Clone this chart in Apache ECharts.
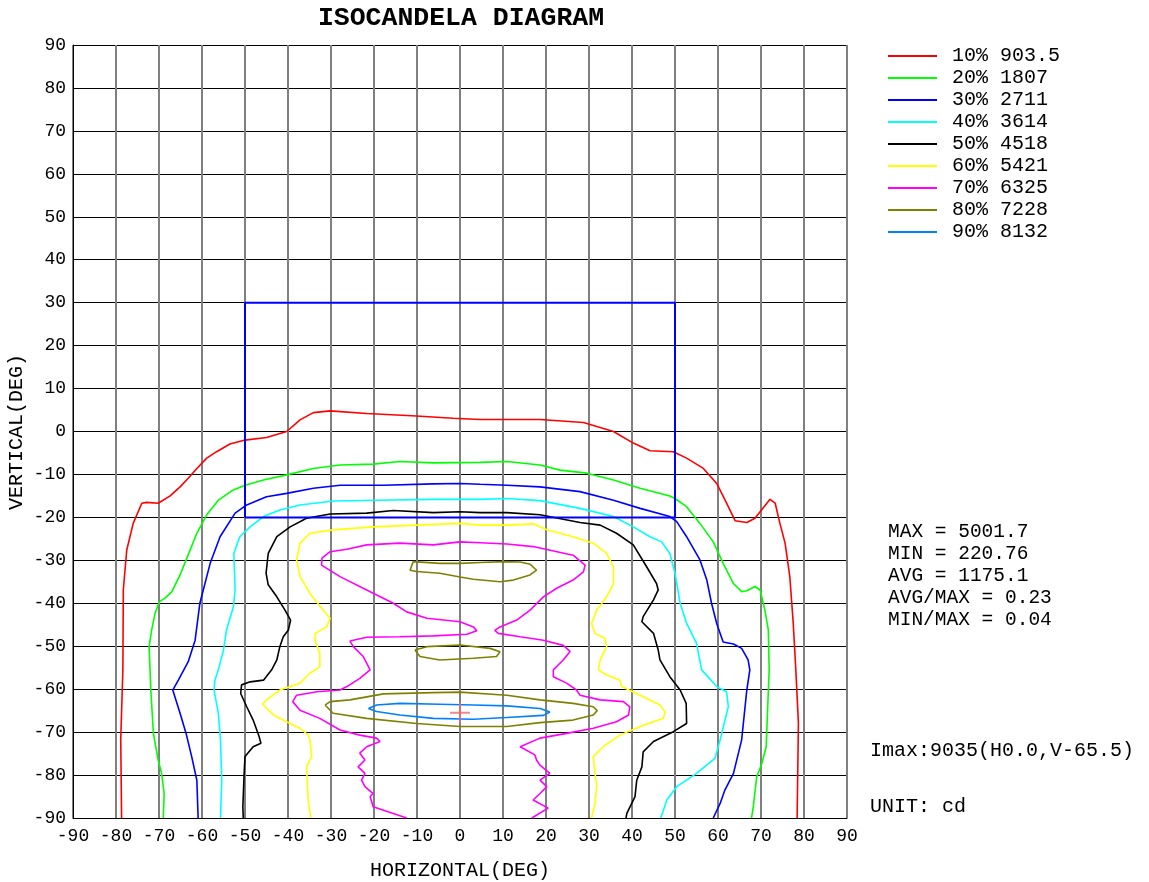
<!DOCTYPE html>
<html>
<head>
<meta charset="utf-8">
<script src="https://cdn.jsdelivr.net/npm/echarts@6/dist/echarts.min.js"></script>
<style>html,body{margin:0;padding:0;background:#fff}#c{width:1149px;height:882px}</style>
</head>
<body>
<div id="c"></div>
<script>
// Contour levels (legend)
const levelNames = ['10% 903.5','20% 1807','30% 2711','40% 3614','50% 4518','60% 5421','70% 6325','80% 7228','90% 8132'];
const levelColors = ['#ff0000','#00ff00','#0000ff','#00ffff','#000000','#ffff00','#ff00ff','#808000','#0080ff'];
const axisTicks = [-90,-80,-70,-60,-50,-40,-30,-20,-10,0,10,20,30,40,50,60,70,80,90];

// Contour polylines [horizontal deg, vertical deg]
const c10 = [[-78.7,-90],[-78.9,-71.8],[-78.4,-55.4],[-78.3,-36.9],[-77.5,-27.6],[-76.0,-21.4],[-74.0,-16.7],[-72.9,-16.5],[-70.2,-16.7],[-67.4,-15.0],[-65.1,-12.9],[-63.2,-10.9],[-61.2,-8.6],[-58.9,-6.2],[-56.6,-4.7],[-53.5,-2.9],[-50.0,-2.0],[-45.0,-1.4],[-40.3,0.0],[-37.2,2.7],[-34.1,4.4],[-30.2,4.8],[-21.7,4.2],[-10.1,3.6],[-1.6,3.1],[4.7,2.8],[18.6,2.8],[28.7,2.1],[35.7,0.0],[40.3,-2.7],[44.2,-4.5],[49.6,-4.7],[52.7,-6.2],[56.6,-8.6],[59.7,-12.1],[62.0,-16.7],[64.0,-20.8],[66.7,-21.2],[68.6,-20.2],[72.1,-15.8],[73.3,-16.7],[74.4,-21.4],[75.6,-26.0],[76.7,-33.8],[77.5,-44.7],[78.1,-55.5],[78.7,-67.9],[78.4,-90]];
const c20 = [[-69.0,-90],[-68.8,-84.3],[-69.4,-79.6],[-70.2,-76.5],[-71.3,-70.3],[-71.9,-60.2],[-72.3,-50.1],[-71.7,-46.2],[-70.9,-42.3],[-69.9,-39.6],[-68.6,-38.8],[-67.0,-37.3],[-65.1,-33.4],[-63.4,-29.2],[-61.2,-23.7],[-58.9,-19.4],[-56.2,-16.0],[-52.7,-13.6],[-50.0,-12.5],[-45.7,-11.3],[-40.3,-10.1],[-34.1,-8.6],[-27.9,-7.8],[-20.2,-7.6],[-14.0,-7.0],[-6.2,-7.3],[4.7,-7.2],[10.9,-7.0],[18.6,-7.8],[23.3,-9.0],[29.5,-9.7],[35.7,-11.3],[41.9,-13.2],[48.8,-15.0],[50.0,-15.6],[52.7,-17.5],[55.8,-21.4],[58.9,-25.7],[61.2,-30.7],[63.6,-35.4],[65.5,-37.3],[66.7,-37.1],[68.6,-36.1],[69.8,-36.9],[70.9,-41.6],[71.7,-46.2],[71.9,-55.5],[71.2,-73.4],[70.2,-77.3],[69.0,-80.4],[68.2,-87.4],[67.8,-90]];
const c30 = [[-60.9,-90],[-61.2,-81.2],[-62.4,-75.7],[-63.7,-70.3],[-65.1,-65.6],[-66.8,-60.2],[-65.5,-57.9],[-63.2,-53.6],[-61.6,-48.6],[-60.5,-40.0],[-59.7,-36.9],[-58.1,-30.7],[-55.8,-24.5],[-52.3,-19.0],[-49.6,-17.1],[-45.0,-15.2],[-40.3,-14.4],[-34.1,-13.2],[-27.9,-12.5],[-17.8,-12.5],[-6.2,-12.2],[0,-12.1],[4.7,-12.3],[10.9,-12.5],[18.6,-12.9],[27.9,-14.0],[35.7,-16.0],[41.9,-17.9],[48.8,-19.8],[50.4,-21.0],[52.7,-24.5],[55.8,-29.9],[57.4,-34.6],[58.5,-40.0],[59.7,-44.7],[61.2,-49.0],[63.6,-49.5],[65.5,-50.5],[67.0,-53.2],[67.4,-55.5],[66.7,-60.2],[65.5,-71.8],[63.6,-79.6],[61.6,-83.5],[60.5,-86.6],[58.9,-90]];
const c40 = [[-55.7,-90],[-55.4,-81.2],[-55.7,-71.8],[-56.2,-65.6],[-57.2,-60.2],[-57.0,-57.9],[-56.2,-55.5],[-55.0,-50.9],[-54.3,-46.2],[-52.7,-40.8],[-52.3,-36.9],[-52.6,-28.4],[-51.2,-24.5],[-48.8,-22.2],[-45.7,-19.8],[-41.9,-18.3],[-37.2,-17.1],[-29.5,-16.2],[-19.4,-16.0],[-6.2,-15.8],[4.7,-15.8],[10.9,-15.6],[18.6,-16.1],[27.9,-17.9],[35.7,-19.8],[40.3,-22.2],[44.2,-24.5],[46.9,-25.7],[48.8,-28.4],[50.0,-33.0],[51.2,-40.0],[52.7,-44.7],[55.0,-49.3],[56.2,-55.5],[59.7,-59.4],[62.0,-60.6],[62.4,-64.1],[60.5,-71.8],[59.3,-76.1],[55.0,-79.6],[50.4,-82.7],[48.1,-85.8],[46.7,-90]];
const c50 = [[-50.4,-90],[-50.5,-87.4],[-50.2,-79.6],[-50.0,-75.7],[-48.1,-73.4],[-46.3,-72.6],[-46.7,-71.1],[-48.1,-67.2],[-49.6,-64.1],[-51.0,-61.0],[-50.8,-59.0],[-48.8,-58.3],[-45.7,-57.9],[-43.8,-55.5],[-42.6,-53.2],[-41.9,-50.1],[-41.1,-47.8],[-39.9,-46.2],[-39.4,-43.9],[-40.7,-41.6],[-42.6,-38.5],[-44.6,-35.7],[-45.1,-33.0],[-44.6,-28.4],[-42.6,-24.5],[-39.5,-22.2],[-35.7,-20.2],[-30.2,-19.2],[-21.7,-19.0],[-15.5,-18.4],[-6.2,-18.9],[0,-18.7],[4.7,-18.9],[10.9,-18.9],[18.6,-19.4],[27.9,-21.2],[32.6,-21.8],[36.4,-23.7],[40.3,-26.4],[43.4,-31.5],[45.7,-35.4],[46.1,-36.9],[45.0,-39.2],[42.6,-43.1],[42.3,-44.3],[45.0,-47.0],[46.1,-50.9],[46.5,-53.2],[48.8,-57.1],[51.2,-60.2],[52.6,-63.3],[52.7,-68.0],[49.6,-69.9],[45.0,-72.2],[42.6,-74.6],[42.3,-78.1],[41.1,-81.2],[40.7,-85.0],[38.8,-88.9],[38.6,-90]];
const c60 = [[-34.7,-90],[-35.3,-85.8],[-35.7,-78.1],[-34.5,-75.7],[-34.9,-71.8],[-35.3,-70.7],[-37.2,-69.1],[-40.3,-67.6],[-43.4,-66.0],[-45.9,-63.5],[-45.0,-62.5],[-41.9,-60.2],[-39.5,-59.4],[-37.2,-58.6],[-34.9,-56.3],[-32.6,-54.8],[-32.6,-51.7],[-33.7,-48.6],[-33.7,-47.0],[-31.0,-45.5],[-30.2,-43.5],[-31.8,-41.6],[-34.9,-37.7],[-37.2,-33.8],[-38.0,-29.9],[-37.2,-26.0],[-34.9,-23.7],[-29.5,-22.9],[-20.2,-22.2],[-10.1,-21.8],[0,-21.4],[4.7,-21.8],[10.9,-21.8],[17.0,-21.5],[20.2,-22.9],[26.3,-24.5],[31.0,-26.0],[34.1,-28.4],[35.7,-31.5],[35.7,-35.4],[34.1,-38.5],[31.8,-41.6],[30.6,-44.7],[31.4,-47.0],[33.7,-48.2],[34.1,-50.1],[32.6,-53.2],[32.2,-55.5],[34.1,-56.7],[37.2,-57.9],[37.6,-59.4],[41.9,-61.4],[46.5,-63.7],[47.7,-65.3],[47.3,-66.8],[41.9,-68.7],[37.2,-70.7],[33.3,-73.4],[31.0,-75.7],[31.4,-79.6],[31.8,-82.7],[31.4,-86.6],[30.6,-90]];
const c70 = [[-12.4,-90],[-20.2,-87.4],[-20.9,-85.0],[-20.2,-84.3],[-22.1,-82.7],[-22.9,-81.2],[-22.1,-79.6],[-23.7,-78.1],[-22.1,-76.5],[-23.3,-74.9],[-21.7,-73.4],[-18.6,-72.2],[-19.4,-71.4],[-23.3,-70.7],[-27.9,-69.5],[-32.6,-66.8],[-37.2,-64.9],[-38.9,-62.9],[-38.0,-61.4],[-33.3,-60.6],[-27.9,-60.2],[-26.3,-59.4],[-23.3,-57.5],[-20.9,-55.5],[-22.5,-52.4],[-24.8,-50.1],[-25.6,-48.8],[-21.7,-47.9],[-14.0,-47.8],[-6.2,-47.6],[1.6,-47.2],[3.9,-46.4],[3.1,-45.5],[0,-44.3],[-7.7,-43.5],[-12.4,-42.0],[-15.5,-40.0],[-21.7,-36.9],[-27.9,-33.8],[-32.2,-31.1],[-32.1,-29.5],[-30.2,-28.0],[-26.3,-27.4],[-21.7,-26.4],[-14.0,-26.0],[-6.2,-26.4],[0,-25.7],[4.7,-25.9],[10.9,-26.2],[17.0,-26.8],[26.3,-28.8],[29.1,-31.1],[28.7,-32.7],[26.3,-34.6],[22.5,-36.5],[19.4,-38.5],[16.3,-41.6],[13.2,-43.9],[9.3,-45.5],[8.1,-46.3],[8.9,-47.0],[14.0,-47.8],[19.4,-48.6],[24.0,-49.8],[25.6,-51.2],[24.0,-53.2],[21.7,-55.5],[21.7,-57.1],[24.8,-58.6],[27.1,-60.2],[27.9,-61.4],[32.6,-62.5],[38.0,-62.9],[39.5,-64.1],[39.2,-66.0],[36.4,-67.6],[31.0,-69.1],[24.8,-70.3],[18.6,-71.4],[14.0,-73.4],[17.4,-75.3],[17.8,-76.5],[18.6,-77.7],[20.9,-79.6],[18.6,-81.2],[20.2,-82.7],[18.6,-84.3],[17.0,-85.8],[20.5,-87.7],[16.7,-90]];
const c80a = [[-10.9,-30.3],[-4.7,-30.7],[0,-30.7],[4.7,-30.5],[10.1,-30.3],[14.0,-30.4],[16.3,-30.9],[17.8,-32.3],[16.3,-33.4],[12.4,-34.6],[9.3,-35.0],[3.1,-34.4],[0,-33.9],[-4.7,-33.0],[-10.1,-32.6],[-11.6,-32.3],[-10.9,-30.3]];
const c80b = [[-10.5,-50.9],[-7.7,-50.1],[0,-49.7],[7.0,-50.5],[9.3,-51.3],[8.5,-52.4],[3.1,-52.8],[-4.7,-53.2],[-9.3,-52.4],[-10.5,-50.9]];
const c80c = [[-31.4,-63.7],[-30.2,-62.9],[-25.6,-62.5],[-17.8,-61.1],[-6.2,-60.8],[0,-60.7],[10.9,-61.4],[18.6,-62.5],[26.3,-63.3],[31.0,-64.1],[31.9,-65.0],[31.0,-66.0],[26.3,-67.2],[18.6,-67.8],[10.9,-68.7],[0,-68.7],[-10.1,-68.0],[-21.7,-66.8],[-29.5,-65.6],[-31.4,-63.7]];
const c90 = [[-21.3,-64.5],[-19.4,-63.7],[-14.0,-63.3],[-4.7,-63.5],[3.1,-63.7],[10.9,-63.9],[18.6,-64.5],[20.9,-65.3],[19.4,-66.1],[10.9,-66.6],[3.1,-67.0],[-6.2,-66.8],[-14.0,-66.0],[-19.4,-65.2],[-21.3,-64.5]];
// Target zone rectangle and Imax location
const zoneRect = [[-50,-20],[-50,30],[50,30],[50,-20],[-50,-20]];
const imaxPoint = [[0,-65.5]];
const statsLines = ['MAX = 5001.7','MIN = 220.76','AVG = 1175.1','AVG/MAX = 0.23','MIN/MAX = 0.04'];

const FONT = "'Liberation Mono', 'DejaVu Sans Mono', monospace";
const pieces = [[c10,0],[c20,1],[c30,2],[c40,3],[c50,4],[c60,5],[c70,6],[c80a,7],[c80b,7],[c80c,7],[c90,8]];
const series = pieces.map(([d,i]) => ({
  type:'line', name:levelNames[i], data:d, symbol:'none', smooth:false,
  lineStyle:{color:levelColors[i], width:1.6}, itemStyle:{color:levelColors[i]},
  silent:true, z:3
}));
series.push({type:'line', data:zoneRect, symbol:'none', lineStyle:{color:'#0000ff', width:2}, silent:true, z:4});
series.push({type:'scatter', data:imaxPoint, symbol:'path://M0,9h20v2h-20z M9,0h2v20h-2z', symbolSize:[20,20], itemStyle:{color:'#f06a6a'}, silent:true, z:5});

const graphics = [
  {type:'text', style:{text:'ISOCANDELA DIAGRAM', x:461, y:18, font:"bold 26.5px "+FONT, fill:'#000', textAlign:'center', textVerticalAlign:'middle'}},
  {type:'text', x:17, y:432, rotation:Math.PI/2, style:{text:'VERTICAL(DEG)', x:0, y:0, font:"20px "+FONT, fill:'#000', textAlign:'center', textVerticalAlign:'middle'}}
];
statsLines.forEach((t,k)=>graphics.push({type:'text', style:{text:t, x:888, y:532+22*k, font:"19.5px "+FONT, fill:'#000', textAlign:'left', textVerticalAlign:'middle'}}));
graphics.push({type:'text', style:{text:'Imax:9035(H0.0,V-65.5)', x:870, y:751, font:"20px "+FONT, fill:'#000', textAlign:'left', textVerticalAlign:'middle'}});
graphics.push({type:'text', style:{text:'UNIT: cd', x:870, y:807, font:"20px "+FONT, fill:'#000', textAlign:'left', textVerticalAlign:'middle'}});

const chart = echarts.init(document.getElementById('c'), null, {renderer:'canvas'});
chart.setOption({
  animation:false,
  backgroundColor:'#fff',
  grid:{left:73, right:302, top:45, bottom:64, containLabel:false, outerBoundsMode:'none'},
  legend:{
    data:levelNames, orient:'vertical', left:888, top:46, icon:'rect', itemWidth:49, itemHeight:2, itemGap:2,
    selectedMode:false, padding:0,
    textStyle:{fontFamily:FONT, fontSize:20, color:'#000', lineHeight:20, padding:[0,0,0,10]}
  },
  xAxis:{
    type:'value', min:-90, max:90, interval:10,
    name:'HORIZONTAL(DEG)', nameLocation:'middle', nameGap:43,
    nameTextStyle:{fontFamily:FONT, fontSize:20, color:'#000'},
    axisLine:{show:true, onZero:false, lineStyle:{color:'#000', width:1}},
    axisTick:{show:false},
    axisLabel:{fontFamily:FONT, fontSize:18, color:'#000', margin:9, formatter:v=>String(axisTicks[axisTicks.indexOf(v)])},
    splitLine:{show:true, lineStyle:{color:'#808080', width:2}}
  },
  yAxis:{
    type:'value', min:-90, max:90, interval:10,
    axisLine:{show:true, onZero:false, lineStyle:{color:'#000', width:1}},
    axisTick:{show:false},
    axisLabel:{fontFamily:FONT, fontSize:18, color:'#000', margin:7},
    splitLine:{show:true, lineStyle:{color:'#000', width:1}}
  },
  graphic:graphics,
  series:series
});
</script>
</body>
</html>
